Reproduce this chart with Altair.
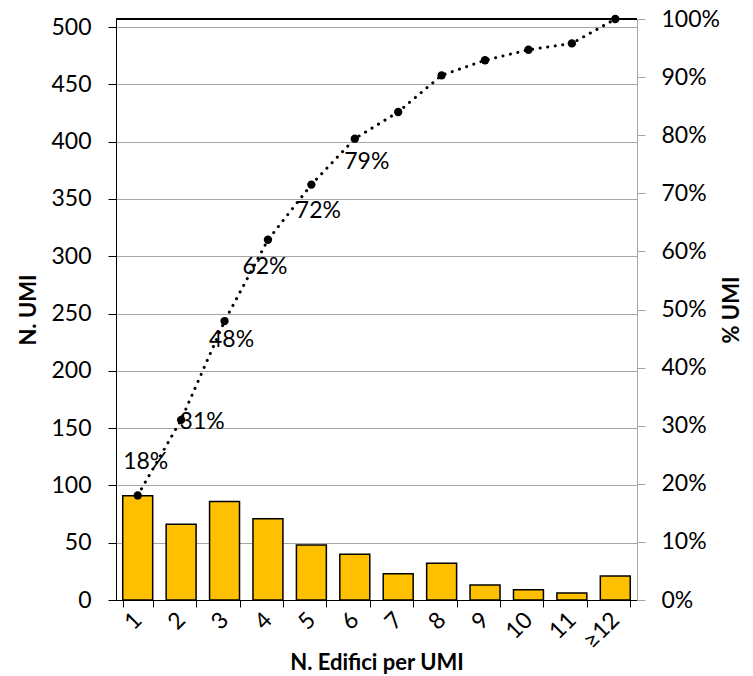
import altair as alt
import pandas as pd

categories = ["1", "2", "3", "4", "5", "6", "7", "8", "9", "10", "11", "≥12"]
n_umi = [91, 66, 86, 71, 48, 40, 23, 32, 13, 9, 6, 21]
cum_pct = [0.18, 0.31, 0.48, 0.62, 0.715, 0.794, 0.84, 0.903, 0.929, 0.947, 0.958, 1.0]
label_text = ["18%", "31%", "48%", "62%", "72%", "79%", "", "", "", "", "", ""]

left_ticks = [0, 50, 100, 150, 200, 250, 300, 350, 400, 450, 500]
right_ticks = [0, 0.1, 0.2, 0.3, 0.4, 0.5, 0.6, 0.7, 0.8, 0.9, 1.0]

df = pd.DataFrame({"cat": categories, "n": n_umi, "pct": cum_pct, "lab": label_text})

FONT = "Lato"
FS = 23
TFS = 22
GRID = "#a6a6a6"

W, H = 521, 581

xenc = alt.X(
    "cat:N",
    sort=categories,
    title="N. Edifici per UMI",
    scale=alt.Scale(paddingInner=0.31, paddingOuter=0.155),
    axis=alt.Axis(
        labelAngle=-45, labelAlign="right", labelBaseline="middle",
        labelPadding=9, tickBand="extent", tickSize=7, tickColor="black",
        domainColor="black", labelFont=FONT, labelFontSize=FS, labelColor="black",
        titleFont=FONT, titleFontSize=TFS, titleFontWeight="bold", titleColor="black",
        titlePadding=0, grid=False,
    ),
)

bars = alt.Chart(df).mark_bar(color="#FFC000", stroke="black", strokeWidth=1.5).encode(
    x=xenc,
    y=alt.Y(
        "n:Q",
        title="N. UMI",
        scale=alt.Scale(domain=[0, 507], nice=False, zero=True),
        axis=alt.Axis(
            orient="left", values=left_ticks, grid=True, gridColor=GRID, gridWidth=1,
            domainColor="black", tickColor="black", tickSize=8, labelPadding=17,
            labelFont=FONT, labelFontSize=FS, labelColor="black",
            titleFont=FONT, titleFontSize=TFS, titleFontWeight="bold", titleColor="black",
            titlePadding=10,
        ),
    ),
)

right_axis = alt.Axis(
    orient="right", values=right_ticks, format=".0%", grid=False,
    domainColor=GRID, tickColor=GRID, tickSize=8, labelPadding=16,
    labelFont=FONT, labelFontSize=FS, labelColor="black",
    titleFont=FONT, titleFontSize=TFS, titleFontWeight="bold", titleColor="black",
    titleAngle=270, titlePadding=24,
)


def yright():
    return alt.Y("pct:Q", title="% UMI", scale=alt.Scale(domain=[0, 1], nice=False), axis=right_axis)


xplain = alt.X("cat:N", sort=categories)

line = alt.Chart(df).mark_line(
    color="black", strokeWidth=3, strokeDash=[0.1, 7.5], strokeCap="round"
).encode(x=xplain, y=yright())

points = alt.Chart(df).mark_point(filled=True, color="black", size=70, opacity=1).encode(
    x=xplain, y=yright()
)

offsets = {"18%": (8, -33), "31%": (21, 2), "48%": (7, 19), "62%": (-3, 27), "72%": (7, 26), "79%": (12, 23)}
label_layers = []
for lab, (dx, dy) in offsets.items():
    label_layers.append(
        alt.Chart(df).transform_filter(alt.datum.lab == lab).mark_text(
            font=FONT, fontSize=FS, color="black", dx=dx, dy=dy
        ).encode(x=xplain, y=yright(), text="lab:N")
    )

top_border = alt.Chart(df).mark_rule(color="black", strokeWidth=1.5).encode(
    x=alt.value(0), x2=alt.value(W), y=alt.value(0)
)

right_layer = alt.layer(line, points, *label_layers)

chart = alt.layer(bars, right_layer, top_border).resolve_scale(y="independent").properties(
    width=W, height=H,
    autosize=alt.AutoSizeParams(type="none"),
    padding={"left": 108, "top": 11, "right": 108, "bottom": 76},
).configure_view(stroke=None)

chart.save("out.html", embed_options={"renderer": "svg", "actions": False})
